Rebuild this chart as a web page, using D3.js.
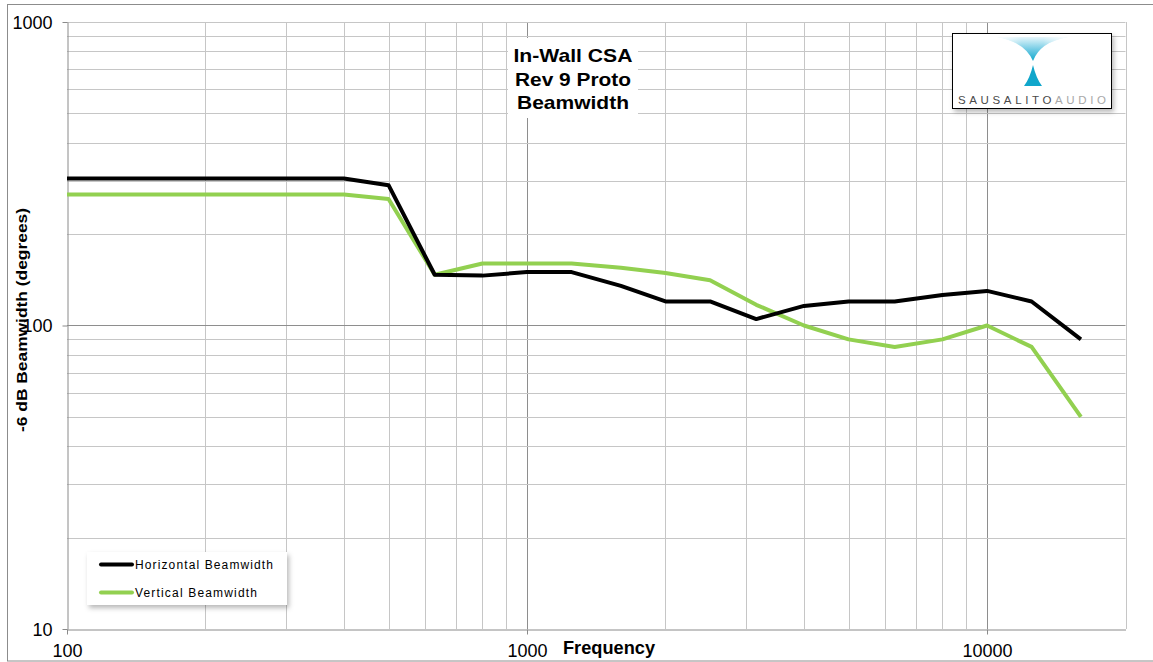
<!DOCTYPE html>
<html>
<head>
<meta charset="utf-8">
<script src="https://cdn.jsdelivr.net/npm/d3@7/dist/d3.min.js"></script>
<style>
  html, body { margin: 0; padding: 0; background: #fff; }
  svg { display: block; font-family: "Liberation Sans", Arial, sans-serif; }
</style>
</head>
<body>
<svg id="chart" width="1153" height="662"></svg>
<script>
// 1/3-octave measurement frequencies (Hz)
const frequencies = [100, 125, 160, 200, 250, 315, 400, 500, 630, 800, 1000, 1250,
                     1600, 2000, 2500, 3150, 4000, 5000, 6300, 8000, 10000, 12500, 16000];
// -6 dB beamwidth in degrees
const horizontalBeamwidth = [305, 305, 305, 305, 305, 305, 305, 290, 147, 146, 150, 150,
                             135, 120, 120, 105, 116, 120, 120, 126, 130, 120, 90];
const verticalBeamwidth   = [270, 270, 270, 270, 270, 270, 270, 261, 147, 160, 160, 160,
                             155, 149, 141, 117, 100, 90, 85, 90, 100, 85, 50];
const seriesNames = ["Horizontal Beamwidth", "Vertical Beamwidth"];
const seriesColors = ["#000000", "#92d050"];
const xTickValues = [100, 1000, 10000];
const yTickValues = [10, 100, 1000];
const titleLines = ["In-Wall CSA", "Rev 9 Proto", "Beamwidth"];

const svg = d3.select("#chart");
const plot = { left: 67, right: 1125.5, top: 22, bottom: 629 };

const x = d3.scaleLog().domain([100, 20000]).range([plot.left, plot.right]);
const y = d3.scaleLog().domain([10, 1000]).range([plot.bottom, plot.top]);

const defs = svg.append("defs");
const shadow = defs.append("filter").attr("id", "shadow")
  .attr("x", "-10%").attr("y", "-10%").attr("width", "130%").attr("height", "140%");
shadow.append("feDropShadow").attr("dx", 2).attr("dy", 3).attr("stdDeviation", 2.5)
  .attr("flood-color", "#000").attr("flood-opacity", 0.28);

// outer chart frame
svg.append("rect").attr("x", 7.5).attr("y", 4.5).attr("width", 1150).attr("height", 656.5)
  .attr("fill", "none").attr("stroke", "#8c8c8c").attr("stroke-width", 1);

// grid values: every 1..9 multiple of each decade
const gridX = [];
[100, 1000, 10000].forEach(d => { for (let k = 1; k <= 9; k++) { const v = d * k; if (v <= 20000) gridX.push(v); } });
gridX.push(20000);
const gridY = [];
[10, 100].forEach(d => { for (let k = 1; k <= 9; k++) gridY.push(d * k); });
gridY.push(1000);

const isMajor = v => Math.abs(Math.log10(v) - Math.round(Math.log10(v))) < 1e-9;

const grid = svg.append("g");
grid.selectAll("line.gx").data(gridX.filter(v => v > 100)).join("line")
  .attr("x1", d => Math.round(x(d)) + 0.5).attr("x2", d => Math.round(x(d)) + 0.5)
  .attr("y1", plot.top).attr("y2", plot.bottom)
  .attr("stroke", d => isMajor(d) ? "#8e8e8e" : "#c6c6c6").attr("stroke-width", 1);
grid.selectAll("line.gy").data(gridY.filter(v => v > 10)).join("line")
  .attr("y1", d => Math.round(y(d)) + 0.5).attr("y2", d => Math.round(y(d)) + 0.5)
  .attr("x1", plot.left).attr("x2", plot.right)
  .attr("stroke", d => isMajor(d) && d < 1000 ? "#8e8e8e" : "#c6c6c6").attr("stroke-width", 1);

// axes
const fmt = d => String(d);
const xAxis = svg.append("g").attr("transform", `translate(0,${plot.bottom + 0.5})`)
  .call(d3.axisBottom(x).tickValues(xTickValues).tickFormat(fmt).tickSize(5).tickSizeOuter(0));
const yAxis = svg.append("g").attr("transform", `translate(${plot.left + 0.5},0)`)
  .call(d3.axisLeft(y).tickValues(yTickValues).tickFormat(fmt).tickSize(5).tickSizeOuter(0));
[xAxis, yAxis].forEach(a => {
  a.select(".domain").attr("stroke", "#8a8a8a");
  a.selectAll(".tick line").attr("stroke", "#8a8a8a");
  a.selectAll(".tick text").attr("font-size", 18).attr("fill", "#000")
    .attr("font-family", "'Liberation Sans', Arial, sans-serif");
});
xAxis.selectAll(".tick text").attr("dy", null).attr("y", 27.5);
yAxis.selectAll(".tick text").attr("x", -15).attr("dy", "0.36em");

// lines
const line = d3.line().x(d => x(d[0])).y(d => y(d[1]));
const seriesGroup = svg.append("g");
[verticalBeamwidth, horizontalBeamwidth].forEach((vals, k) => {
  const i = 1 - k;
  seriesGroup.append("path")
    .datum(frequencies.map((f, j) => [f, vals[j]]))
    .attr("d", line).attr("fill", "none")
    .attr("stroke", seriesColors[i]).attr("stroke-width", 4)
    .attr("stroke-linejoin", "round");
});

// title
const tg = svg.append("g");
tg.append("rect").attr("x", 508).attr("y", 38).attr("width", 130).attr("height", 80).attr("fill", "#fff");
const titleWidths = [119, 116, 112];
tg.selectAll("text").data(titleLines).join("text")
  .attr("x", 573).attr("y", (d, i) => 62 + i * 23.7)
  .attr("text-anchor", "middle").attr("font-size", 18.5).attr("font-weight", "bold")
  .attr("textLength", (d, i) => titleWidths[i]).attr("lengthAdjust", "spacingAndGlyphs")
  .text(d => d);

// axis titles
svg.append("text").attr("x", 609).attr("y", 654).attr("text-anchor", "middle")
  .attr("font-size", 18).attr("font-weight", "bold")
  .attr("textLength", 92).attr("lengthAdjust", "spacingAndGlyphs").text("Frequency");
svg.append("text").attr("transform", "translate(27,320) rotate(-90)")
  .attr("text-anchor", "middle").attr("font-size", 15).attr("font-weight", "bold")
  .attr("textLength", 224).attr("lengthAdjust", "spacingAndGlyphs")
  .text("-6 dB Beamwidth (degrees)");

// legend
const lg = svg.append("g");
lg.append("rect").attr("x", 87).attr("y", 552).attr("width", 200).attr("height", 53)
  .attr("fill", "#fff").attr("filter", "url(#shadow)");
seriesNames.forEach((name, i) => {
  const ly = 564.5 + i * 28;
  lg.append("line").attr("x1", 101).attr("x2", 132).attr("y1", ly).attr("y2", ly)
    .attr("stroke", seriesColors[i]).attr("stroke-width", 4).attr("stroke-linecap", "round");
  lg.append("text").attr("x", 135).attr("y", ly + 4.5).attr("font-size", 12)
    .attr("textLength", i === 0 ? 138 : 122).attr("lengthAdjust", "spacing").text(name);
});

// logo
const logo = svg.append("g");
logo.append("rect").attr("x", 952.5).attr("y", 33.5).attr("width", 159).attr("height", 75)
  .attr("fill", "#fff").attr("stroke", "#000").attr("stroke-width", 1).attr("filter", "url(#shadow)");
const vg = defs.append("linearGradient").attr("id", "vgrad").attr("x1", 0).attr("y1", 0).attr("x2", 0).attr("y2", 1);
vg.append("stop").attr("offset", "0%").attr("stop-color", "#e6f6fb");
vg.append("stop").attr("offset", "55%").attr("stop-color", "#6cc9e3");
vg.append("stop").attr("offset", "100%").attr("stop-color", "#10a9cc");
const hg = defs.append("linearGradient").attr("id", "hgrad").attr("x1", 0).attr("y1", 0).attr("x2", 1).attr("y2", 0);
hg.append("stop").attr("offset", "0%").attr("stop-color", "#fff").attr("stop-opacity", 0.9);
hg.append("stop").attr("offset", "35%").attr("stop-color", "#fff").attr("stop-opacity", 0);
hg.append("stop").attr("offset", "65%").attr("stop-color", "#fff").attr("stop-opacity", 0);
hg.append("stop").attr("offset", "100%").attr("stop-color", "#fff").attr("stop-opacity", 0.9);
const vPath = "M997,37 L1068,37 Q1040,42 1033,61 Q1025,42 997,37 Z";
logo.append("path").attr("d", vPath).attr("fill", "url(#vgrad)");
logo.append("path").attr("d", vPath).attr("fill", "url(#hgrad)");
logo.append("path").attr("d", "M1033,65 Q1036,78 1042,86 L1024,86 Q1030,78 1033,65 Z").attr("fill", "#10a6cb");
const lt = logo.append("text").attr("x", 958).attr("y", 103.5).attr("font-size", 11.5)
  .attr("textLength", 148).attr("lengthAdjust", "spacing");
lt.append("tspan").attr("fill", "#4a4a4a").text("SAUSALITO");
lt.append("tspan").attr("fill", "#a8a8a8").text("AUDIO");
</script>
</body>
</html>
